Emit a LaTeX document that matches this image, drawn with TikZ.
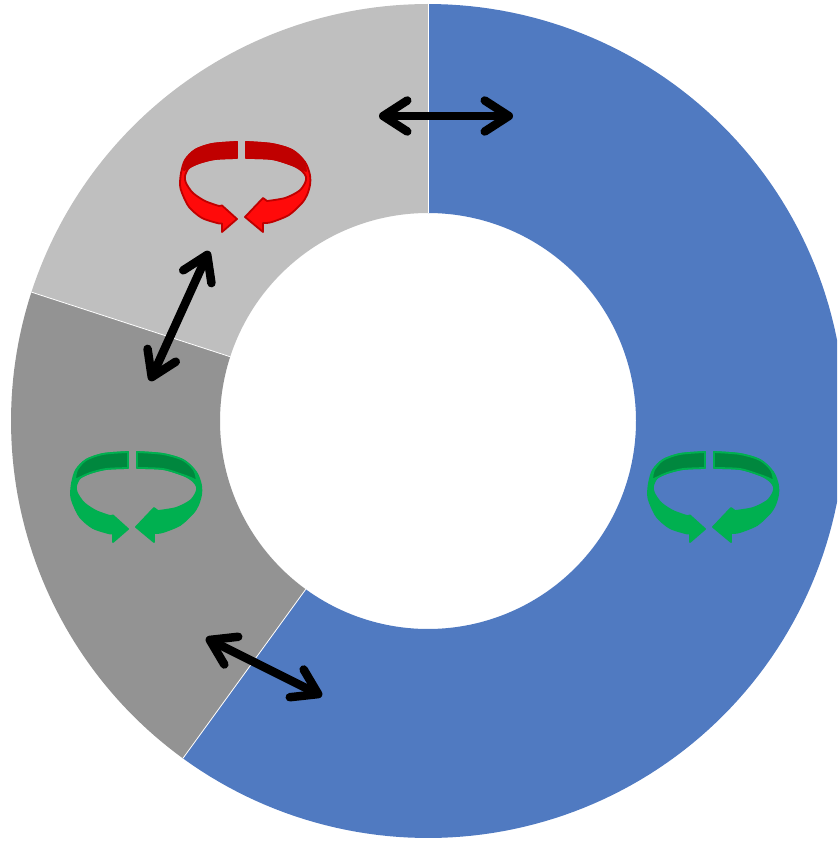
\documentclass[tikz,border=0pt]{standalone}
\usetikzlibrary{arrows.meta}
\definecolor{donutblue}{RGB}{80,122,193}
\definecolor{lightgrey}{RGB}{191,191,191}
\definecolor{midgrey}{RGB}{147,147,147}
\definecolor{grface}{RGB}{0,176,80}
\definecolor{grinner}{RGB}{0,135,62}
\definecolor{rdface}{RGB}{255,10,10}
\definecolor{rdinner}{RGB}{192,0,0}
\tikzset{
  dblarrow/.style={line width=8.5pt, line cap=round,
    {Straight Barb[round,length=24pt,width=31pt]}-{Straight Barb[round,length=24pt,width=31pt]}},
  iconline/.style={line width=1.8pt, line join=round},
}
\newcommand{\cycleicon}[5]{%
\begin{scope}[shift={(#1,#2)}]
  % left half
  \path[iconline, fill=#3, draw=#5]
    plot[smooth] coordinates {(-8,-34) (-33,-32) (-50,-26) (-60,-16) (-64,-3) (-65,9) (-63,17) (-56,31) (-43,42) (-26,47.5)}
    -- (-23,47.5) -- (-23,56) -- (-8,43) -- (-23,29.5)
    -- plot[smooth] coordinates {(-26,30) (-40,25) (-52,17) (-59,7) (-60,0) (-56,-8) (-46,-13) (-30,-17) (-8,-18)}
    -- cycle;
  \path[iconline, fill=#4, draw=#5]
    plot[smooth] coordinates {(-8,-34) (-33,-32) (-50,-26) (-59,-16) (-61,-6)}
    -- plot[smooth] coordinates {(-61,-6) (-55,-9) (-46,-13) (-30,-17) (-8,-18)}
    -- cycle;
  % right half
  \path[iconline, fill=#3, draw=#5]
    plot[smooth] coordinates {(1,-34) (27,-32) (47,-26) (60,-14) (65,-1) (65,9) (62,19) (57,27) (44,39) (27,46) (20,47)}
    -- (18,47) -- (18,56) -- (0,41) -- (18,22)
    -- plot[smooth] coordinates {(22,25) (40,22) (54,15) (60,7) (61,1) (57,-5) (47,-11) (27,-17) (1,-18)}
    -- cycle;
  \path[iconline, fill=#4, draw=#5]
    plot[smooth] coordinates {(1,-34) (27,-32) (47,-26) (58,-16) (61,-5)}
    -- plot[smooth] coordinates {(61,-5) (55,-8) (47,-11) (27,-17) (1,-18)}
    -- cycle;
\end{scope}}
\begin{document}
\begin{tikzpicture}[x=1pt,y=-1pt]
\path[use as bounding box] (0,0) rectangle (837,842);
\clip (0,0) rectangle (837,842);
% donut slices
\fill[donutblue] plot[domain=-126:90,samples=150] ({428+417*cos(\x)},{421-417*sin(\x)})
  -- plot[domain=90:-126,samples=150] ({428+208*cos(\x)},{421-208*sin(\x)}) -- cycle;
\fill[lightgrey] plot[domain=90:162,samples=60] ({428+417*cos(\x)},{421-417*sin(\x)})
  -- plot[domain=162:90,samples=60] ({428+208*cos(\x)},{421-208*sin(\x)}) -- cycle;
\fill[midgrey] plot[domain=162:234,samples=60] ({428+417*cos(\x)},{421-417*sin(\x)})
  -- plot[domain=234:162,samples=60] ({428+208*cos(\x)},{421-208*sin(\x)}) -- cycle;
\foreach \a in {90,162,234}
  \draw[white, line width=0.8pt] ({428+208*cos(\a)},{421-208*sin(\a)}) -- ({428+417*cos(\a)},{421-417*sin(\a)});
% rotation icons
\cycleicon{245}{176}{rdface}{rdinner}{rdinner}
\cycleicon{136}{486}{grface}{grinner}{grface}
\cycleicon{713}{486}{grface}{grinner}{grface}
% double arrows
\coordinate (ta) at (379,116);
\coordinate (tb) at (513,116);
\coordinate (la) at (209,251);
\coordinate (lb) at (150,381);
\coordinate (ba) at (206,638);
\coordinate (bb) at (322,696);
\draw[dblarrow] (ta) -- (tb);
\draw[dblarrow] (la) -- (lb);
\draw[dblarrow] (ba) -- (bb);
\end{tikzpicture}
\end{document}
